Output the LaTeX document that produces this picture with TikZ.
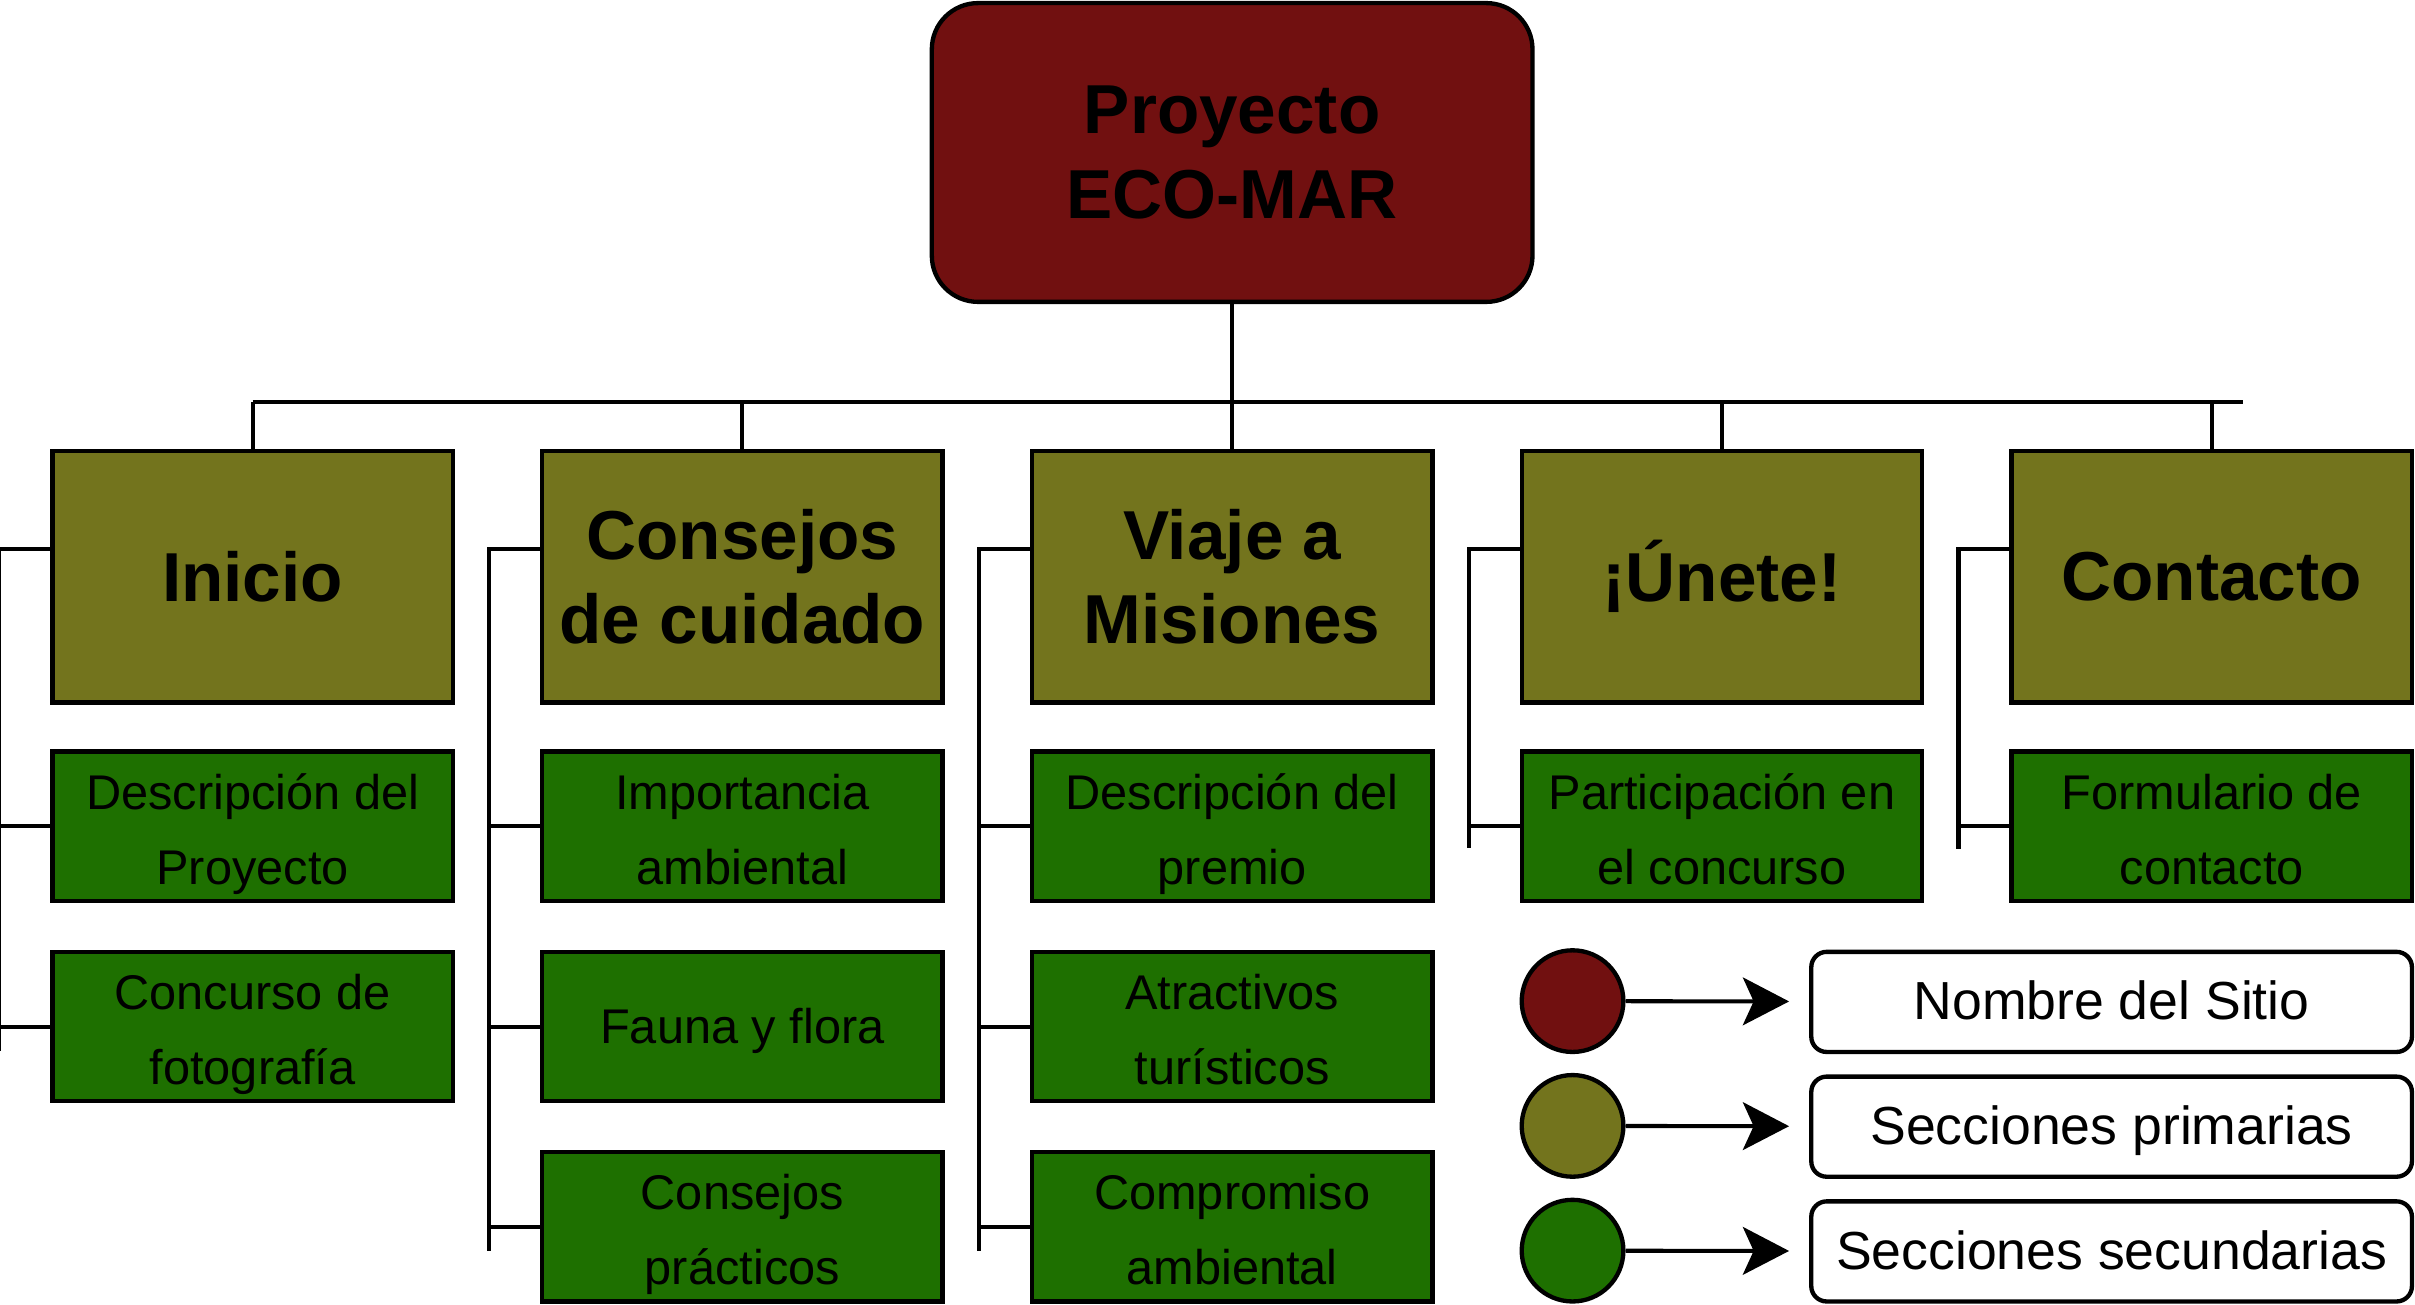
\documentclass[tikz,border=0pt]{standalone}
\usepackage{fontspec}
\setmainfont{Liberation Sans}
\usepackage{tikz}
\usetikzlibrary{arrows.meta}

\definecolor{rojoeco}{RGB}{113,16,16}
\definecolor{olivaeco}{RGB}{115,116,29}
\definecolor{verdeeco}{RGB}{30,112,0}

\tikzset{
	rootbox/.style={shape=rectangle, rounded corners=0.6cm, draw, line width=1.6pt, fill=rojoeco, inner sep=0, minimum width=7.8cm, minimum height=3.88cm, align=center, font=\fontsize{25.6}{31.3}\selectfont\bfseries},
	primbox/.style={shape=rectangle, draw, line width=1.6pt, fill=olivaeco, inner sep=0, minimum width=5.2cm, minimum height=3.26cm, align=center, font=\fontsize{25.6}{31.3}\selectfont\bfseries},
	secbox/.style={shape=rectangle, draw, line width=1.6pt, fill=verdeeco, inner sep=0, minimum width=5.2cm, minimum height=1.94cm, align=center, text height=46.7pt, text depth=4pt, font=\fontsize{18}{27.6}\selectfont},
	secline/.style={text height=16.6pt, text depth=4pt},
	legdot/.style={shape=circle, draw, line width=1.6pt, inner sep=0, minimum size=1.32cm},
	legbox/.style={shape=rectangle, rounded corners=0.2cm, draw, line width=1.6pt, fill=white, inner sep=0, minimum width=7.8cm, minimum height=1.3cm, text height=13pt, text depth=0pt, font=\fontsize{19.8}{24}\selectfont},
	conn/.style={draw, line width=1.5pt},
	legarrow/.style={draw, line width=1.5pt, -{Stealth[length=0.6cm, width=0.62cm, inset=0.14cm]}, shorten >=0.26cm}
}

\begin{document}
\begin{tikzpicture}
	\useasboundingbox (0, 0) rectangle (31.36, -16.94);
	% Root and primary sections:
	\node[rootbox] (proyecto) at (16, -1.98) {Proyecto\\ECO-MAR};
	\node[primbox] (inicio) at (3.28, -7.49) {Inicio};
	\node[primbox] (consejos) at (9.64, -7.49) {Consejos\\de cuidado};
	\node[primbox] (viaje) at (16, -7.49) {Viaje a\\Misiones};
	\node[primbox] (unete) at (22.36, -7.49) {¡Únete!};
	\node[primbox] (contacto) at (28.72, -7.49) {Contacto};
	% Secondary sections:
	\node[secbox] (descproy) at (3.28, -10.73) {Descripción del\\Proyecto};
	\node[secbox] (concurso) at (3.28, -13.33) {Concurso de\\fotografía};
	\node[secbox] (importancia) at (9.64, -10.73) {Importancia\\ambiental};
	\node[secbox, secline] (fauna) at (9.64, -13.33) {Fauna y flora};
	\node[secbox] (practicos) at (9.64, -15.93) {Consejos\\prácticos};
	\node[secbox] (descpremio) at (16, -10.73) {Descripción del\\premio};
	\node[secbox] (atractivos) at (16, -13.33) {Atractivos\\turísticos};
	\node[secbox] (compromiso) at (16, -15.93) {Compromiso\\ambiental};
	\node[secbox] (participacion) at (22.36, -10.73) {Participación en\\el concurso};
	\node[secbox] (formulario) at (28.72, -10.73) {Formulario de\\contacto};
	% Bus and wires:
	\coordinate (busL) at (3.28, -5.22);
	\coordinate (busR) at (29.12, -5.22);
	\draw[conn] (busL) -- (busR);
	\draw[conn] (proyecto.south) -- (viaje.north);
	\draw[conn] (inicio.north) -- (inicio.north |- busL);
	\draw[conn] (consejos.north) -- (consejos.north |- busL);
	\draw[conn] (unete.north) -- (unete.north |- busL);
	\draw[conn] (contacto.north) -- (contacto.north |- busL);
	% Side wires:
	\draw[conn] ([yshift=-1.3cm]inicio.north west) -| ([xshift=-0.66cm, yshift=-0.32cm]concurso.west);
	\draw[conn] (descproy.west) -- ++(-0.66, 0);
	\draw[conn] (concurso.west) -- ++(-0.66, 0);
	\draw[conn] ([yshift=-1.3cm]consejos.north west) -| ([xshift=-0.66cm, yshift=-0.32cm]practicos.west);
	\draw[conn] (importancia.west) -- ++(-0.66, 0);
	\draw[conn] (fauna.west) -- ++(-0.66, 0);
	\draw[conn] (practicos.west) -- ++(-0.66, 0);
	\draw[conn] ([yshift=-1.3cm]viaje.north west) -| ([xshift=-0.66cm, yshift=-0.32cm]compromiso.west);
	\draw[conn] (descpremio.west) -- ++(-0.66, 0);
	\draw[conn] (atractivos.west) -- ++(-0.66, 0);
	\draw[conn] (compromiso.west) -- ++(-0.66, 0);
	\draw[conn] ([yshift=-1.3cm]unete.north west) -| ([xshift=-0.66cm, yshift=-0.28cm]participacion.west);
	\draw[conn] (participacion.west) -- ++(-0.66, 0);
	\draw[conn] ([yshift=-1.3cm]contacto.north west) -| ([xshift=-0.66cm, yshift=-0.3cm]formulario.west);
	\draw[conn] (formulario.west) -- ++(-0.66, 0);
	% Legend:
	\node[legdot, fill=rojoeco] (dotsitio) at (20.42, -13.0) {};
	\node[legdot, fill=olivaeco] (dotprim) at (20.42, -14.62) {};
	\node[legdot, fill=verdeeco] (dotsec) at (20.42, -16.24) {};
	\node[legbox] (legsitio) at (27.42, -13.01) {Nombre del Sitio};
	\node[legbox] (legprim) at (27.42, -14.63) {Secciones primarias};
	\node[legbox] (legsec) at (27.42, -16.25) {Secciones secundarias};
	\draw[legarrow] (dotsitio) -- (legsitio);
	\draw[legarrow] (dotprim) -- (legprim);
	\draw[legarrow] (dotsec) -- (legsec);
\end{tikzpicture}
\end{document}
